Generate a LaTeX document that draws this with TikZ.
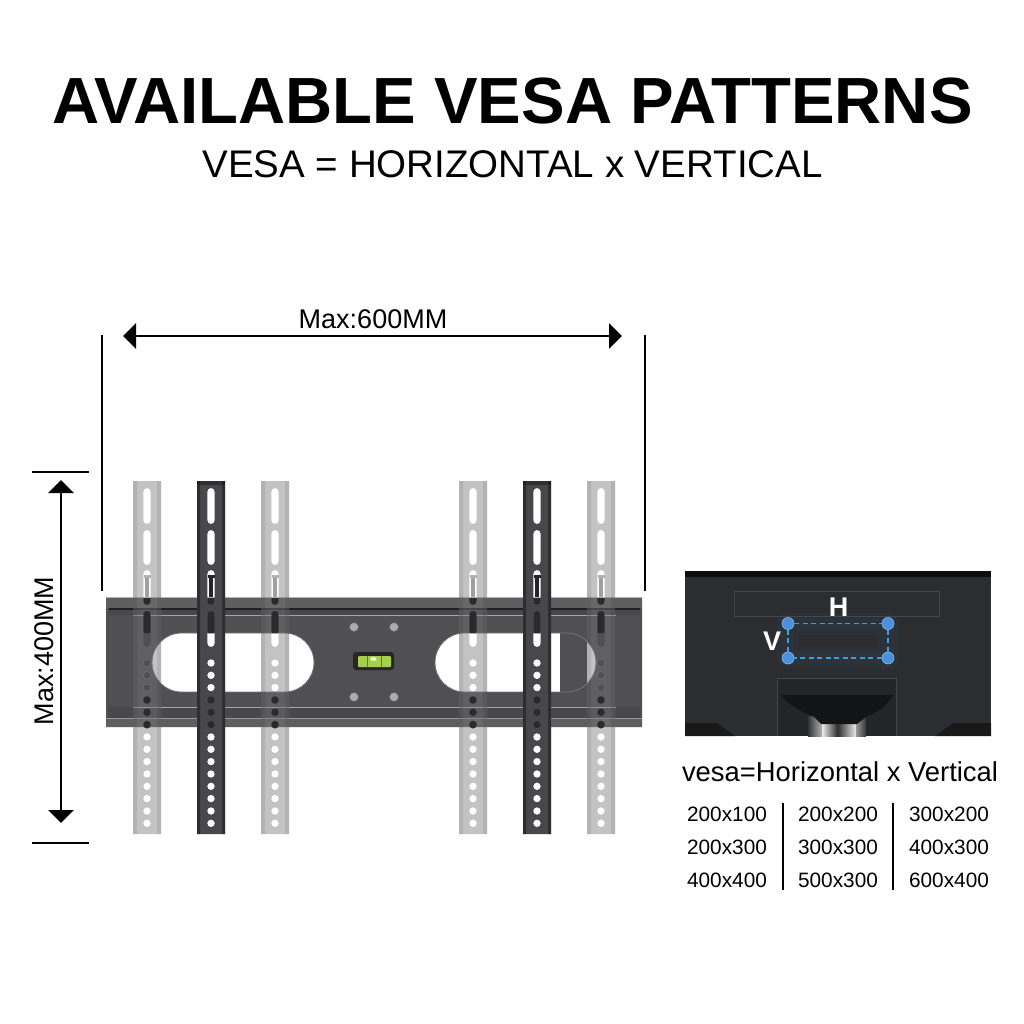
\documentclass[tikz,border=0pt]{standalone}
\usepackage{fontspec}
\setmainfont{Liberation Sans}
\usetikzlibrary{arrows.meta,positioning}
\definecolor{plategray}{HTML}{505053}
\definecolor{flangegray}{HTML}{5E5E61}
\definecolor{slotdark}{HTML}{2A2A2B}
\definecolor{palebar}{RGB}{118,118,120}
\definecolor{darkbar}{HTML}{48484B}
\definecolor{panelgray}{HTML}{2B2D31}
\definecolor{standgray}{HTML}{232528}
\definecolor{neckgray}{HTML}{131416}
\definecolor{levelgreen}{HTML}{A6CF4E}
\definecolor{vesablue}{HTML}{4A90DC}
\tikzset{
x=1pt,
y=-1pt,
dimline/.style={line width=2.4pt, black},
dimarrow/.style={line width=2.4pt, black, {Triangle[length=13pt,width=25pt]}-{Triangle[length=13pt,width=25pt]}},
titletext/.style={anchor=base, inner sep=0pt, font=\fontsize{65.3}{70}\selectfont\bfseries},
subtext/.style={anchor=base, inner sep=0pt, font=\fontsize{38.5}{40}\selectfont},
dimtext/.style={anchor=base, inner sep=0pt, font=\fontsize{27}{29}\selectfont},
vesatext/.style={anchor=base, inner sep=0pt, font=\fontsize{27.4}{29}\selectfont},
sizetext/.style={anchor=base, inner sep=0pt, font=\fontsize{20.8}{22}\selectfont},
paneltext/.style={anchor=base, inner sep=0pt, white, font=\fontsize{27}{29}\selectfont\bfseries},
vesadot/.style={circle, inner sep=0pt, minimum size=12pt, fill=vesablue, draw=vesablue!60!white, line width=.6pt},
vesalink/.style={draw=vesablue!90!cyan, line width=1.6pt, dash pattern=on 5pt off 3.5pt},
vesaglow/.style={draw=vesablue, line join=round, opacity=.04},
screw/.style={circle, inner sep=0pt, minimum size=9pt, fill=gray!65, draw=black!60, line width=.5pt},
}
% slots and holes of one upright
\newcommand{\barholes}[1]{
  [rounded corners=3.5pt] (#1-3.6,488) rectangle (#1+3.6,524) (#1-3.6,530) rectangle (#1+3.6,565)
  (#1-3.6,570) rectangle (#1+3.6,605) (#1-3.6,611) rectangle (#1+3.6,647) [sharp corners]
  foreach \hy in {663,675.3,687.6,700,712.3,724.6,737,749.3,761.6,774,786.3,798.6,811,823.3} {(#1,\hy) circle (3.8pt)}
}

\begin{document}
\begin{tikzpicture}
    \useasboundingbox[fill=white] (0,0) rectangle (1024,1024);

    \node[titletext] (title) at (512.5,124) {AVAILABLE VESA PATTERNS};
    \node[subtext] (subtitle) at (512.5,178) {VESA = HORIZONTAL x VERTICAL};

    % wall plate
    \fill[plategray, even odd rule, rounded corners=0pt] (106,597) rectangle (642,727)
        [rounded corners=29.5pt] (152,633) rectangle (314,692) (435,633) rectangle (596,692);
    \fill[flangegray] (106,597) rectangle (642,608);
    \fill[flangegray] (106,718) rectangle (642,727);
    \fill[black!60!plategray] (108,608) rectangle (640,609.5);
    \fill[black!10!plategray] (108,609.5) rectangle (640,615);
    \fill[black!10!plategray] (108,707) rectangle (640,717.5);
    \fill[gray!60] (106,597) rectangle (642,598);
    \fill[gray!80] (106,717.5) rectangle (642,718.5);
    \draw[gray!70, line width=.8pt] (133,615) -- (616,615) (133,707) -- (616,707);
    \draw[black!70, line width=1pt] (108,608) -- (108,718) (640,608) -- (640,718);
    \begin{scope}
        \clip[rounded corners=29.5pt] (435,633) rectangle (596,692);
        \fill[plategray] (560,633) rectangle (587,692);
    \end{scope}
    \draw[black!55, line width=.8pt, rounded corners=29.5pt] (152,633) rectangle (314,692) (435,633) rectangle (596,692);
    \node[screw] (screwa) at (354,627) {};
    \node[screw] (screwb) at (394,627) {};
    \node[screw] (screwc) at (354,697) {};
    \node[screw] (screwd) at (394,697) {};

    % level
    \fill[black!85, rounded corners=3pt] (353,652) rectangle (394,670);
    \fill[levelgreen, rounded corners=1pt] (358,656) rectangle (391,667);
    \draw[black!40!levelgreen, line width=.6pt] (367,656) -- (367,667) (381,656) -- (381,667);
    \fill[white] (373.5,659) ellipse (3pt and 1.8pt);

    % dark marks seen through the slots
    \foreach \cx in {147,211,275,473,537,601} {
        \fill[slotdark, rounded corners=3.5pt] (\cx-3.6,590) rectangle (\cx+3.6,605);
        \fill[slotdark, rounded corners=1pt] (\cx-3.6,611) rectangle (\cx+3.6,633);
        \foreach \hy in {700,712.3,724.6} \fill[slotdark] (\cx,\hy) circle (4pt);
    }
    \fill[white] (100,570) rectangle (650,597);
    \draw[gray!60, line width=.5pt] (106,597) -- (642,597);

    % uprights
    \foreach \cx in {147,275,473,601} {
        \path[fill=palebar, fill opacity=.43, even odd rule] (\cx-14,481) rectangle (\cx+14,834) \barholes{\cx};
        \fill[black, opacity=.08] (\cx-14,481) rectangle (\cx-10,834) (\cx+10,481) rectangle (\cx+14,834);
        \fill[gray!75] (\cx-2,576) rectangle (\cx+2,597);
        \fill[gray!60] (\cx-3.5,575) rectangle (\cx+3.5,578);
    }
    \foreach \cx in {147,601} \foreach \hy in {663,675.3,687.6} \draw[black!55, line width=.4pt] (\cx,\hy) circle (3.8pt);
    \foreach \cx in {211,537} {
        \path[fill=darkbar, even odd rule] (\cx-14,481) rectangle (\cx+14,834) \barholes{\cx};
        \fill[black, opacity=.35] (\cx-14,481) rectangle (\cx-11,834) (\cx+11,481) rectangle (\cx+14,834);
        \fill[black, opacity=.3] (\cx-14,481) rectangle (\cx+14,485);
        \fill[black!85] (\cx-2,576) rectangle (\cx+2,597);
        \fill[black!85] (\cx-3.5,575) rectangle (\cx+3.5,578);
    }

    % dimensions
    \coordinate (widthl) at (123,336);
    \coordinate (widthr) at (622,336);
    \coordinate (heightt) at (61,480);
    \coordinate (heightb) at (61,823);
    \draw[dimarrow] (widthl) -- (widthr);
    \draw[dimarrow] (heightt) -- (heightb);
    \node[dimtext] (maxw) at (373,328) {Max:600MM};
    \node[dimtext, rotate=90] (maxh) at (53,651) {Max:400MM};
    \coordinate (wallat) at (102,335);
    \coordinate (wallab) at (102,591);
    \coordinate (wallbt) at (645,335);
    \coordinate (wallbb) at (645,591);
    \coordinate (tickal) at (32,472);
    \coordinate (tickar) at (89,472);
    \coordinate (tickbl) at (32,843);
    \coordinate (tickbr) at (89,843);
    \draw[dimline] (wallat) -- (wallab);
    \draw[dimline] (wallbt) -- (wallbb);
    \draw[dimline] (tickal) -- (tickar);
    \draw[dimline] (tickbl) -- (tickbr);

    % monitor back
    \fill[panelgray] (685,571) rectangle (991,736);
    \fill[black!70!panelgray] (685,571) rectangle (991,577);
    \draw[white!12!panelgray, line width=.7pt] (734,616) -- (734,591) -- (939,591) -- (939,616) -- cycle;
    \fill[standgray] (777,678) rectangle (896,736);
    \draw[white!12!panelgray, line width=.7pt] (777,736) -- (777,678) -- (896,678) -- (896,736);
    \shade[left color=black!80, right color=gray!60] (808,716) rectangle (822,736);
    \shade[left color=white!85!gray, right color=black!85] (822,716) rectangle (838,736);
    \shade[left color=black!80, right color=white!85!gray] (838,716) rectangle (856,736);
    \shade[left color=gray!80, right color=black!80] (856,716) rectangle (866,736);
    \fill[neckgray] (781,695) .. controls (790,708) and (805,712) .. (814,717) -- (821,724) -- (857,724) -- (866,717) .. controls (876,712) and (886,708) .. (893,695) -- cycle;
    \fill[black!90] (685,723) -- (717,723) -- (735,736) -- (685,736) -- cycle;
    \fill[black!90] (991,723) -- (953,723) -- (935,736) -- (991,736) -- cycle;
    \node[vesadot] (dottl) at (788,623.5) {};
    \node[vesadot] (dottr) at (888,623.5) {};
    \node[vesadot] (dotbl) at (788,658) {};
    \node[vesadot] (dotbr) at (888,658) {};
    \draw[vesaglow, line width=22pt] (dottl.center) -- (dottr.center) -- (dotbr.center) -- (dotbl.center) -- cycle;
    \draw[vesaglow, line width=12pt] (dottl.center) -- (dottr.center) -- (dotbr.center) -- (dotbl.center) -- cycle;
    \draw[vesalink] (dottl) -- (dottr);
    \draw[vesalink] (dottr) -- (dotbr);
    \draw[vesalink] (dotbr) -- (dotbl);
    \draw[vesalink] (dotbl) -- (dottl);
    \node[paneltext] (hlabel) at (838.5,616) {H};
    \node[paneltext] (vlabel) at (772,650) {V};

    % size table
    \node[vesatext] (vesaline) at (840,781) {vesa=Horizontal x Vertical};
    \foreach \lab/\cx/\ry [count=\i] in {200x100/727/821,200x300/727/854,400x400/727/887,200x200/838/821,300x300/838/854,500x300/838/887,300x200/949/821,400x300/949/854,600x400/949/887}
        \node[sizetext] (size\i) at (\cx,\ry) {\lab};
    \coordinate (sepat) at (783,803);
    \coordinate (sepab) at (783,890);
    \coordinate (sepbt) at (893,803);
    \coordinate (sepbb) at (893,890);
    \draw[dimline] (sepat) -- (sepab);
    \draw[dimline] (sepbt) -- (sepbb);

\end{tikzpicture}
\end{document}
